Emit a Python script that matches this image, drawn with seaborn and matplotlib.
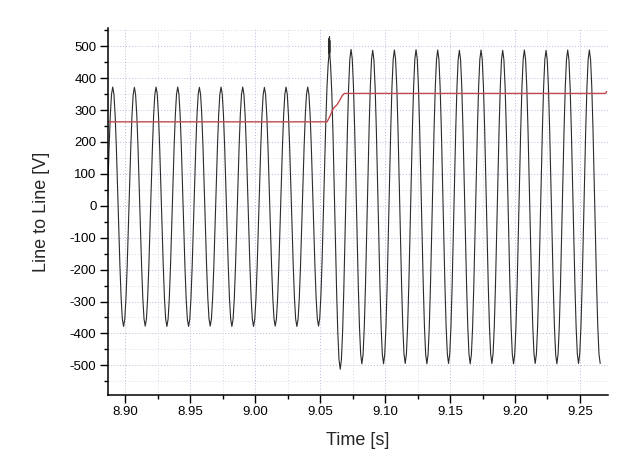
import numpy as np
import pandas as pd
import matplotlib
matplotlib.use("Agg")
import matplotlib.pyplot as plt
import seaborn as sns
from matplotlib.ticker import MultipleLocator, FormatStrFormatter

# -------------------------------------------------------
# Values
# -------------------------------------------------------

# waveform: one peak and the following trough per cycle
period = 0.01668          # s, from the peak spacing (60 Hz)
first_peak_t = 8.8903     # s
t_end = 9.2705            # s, where the trace stops
peak_v = [372, 371, 372, 372, 371, 372, 372, 371, 372, 372,
          470,
          490, 487, 488, 489, 488, 487, 488, 487, 488, 487, 488, 488]
trough_v = [-378, -377, -378, -378, -377, -378, -378, -377, -378, -377,
            -512,
            -495, -495, -494, -495, -494, -495, -494, -495, -494, -495, -494, -494]
lead_trough_v = -378      # trough before the first peak (outside the axes)

# burst of switching noise on top of the transient peak
spike_dt = [-0.0004, -0.0002, 0.0, 0.0001, 0.0002, 0.0003, 0.0004]
spike_v = [468, 525, 476, 530, 480, 518, 470]
spike_cycle = 10

# red trace (rms)
red_t = [8.8863, 9.0553, 9.0575, 9.0595, 9.0610, 9.0627, 9.0650, 9.0670,
         9.0686, 9.2698, 9.2705]
red_v = [263, 263, 280, 300, 309, 315, 330, 345, 352, 352, 358]

x_ticks = [8.90, 8.95, 9.00, 9.05, 9.10, 9.15, 9.20, 9.25]


def build_wave() -> pd.DataFrame:
    # extrema sequence: trough, peak, trough, peak, ...
    ext_t = [first_peak_t - period / 2]
    ext_v = [lead_trough_v]
    for k, (p, tr) in enumerate(zip(peak_v, trough_v)):
        ext_t += [first_peak_t + k * period, first_peak_t + (k + 0.5) * period]
        ext_v += [p, tr]

    # half-cosine between neighbouring extrema
    ts, vs = [], []
    steps = 9
    for i in range(len(ext_t) - 1):
        t0, t1 = ext_t[i], ext_t[i + 1]
        v0, v1 = ext_v[i], ext_v[i + 1]
        for j in range(steps):
            f = j / steps
            w = (1 - np.cos(np.pi * f)) / 2
            ts.append(t0 + (t1 - t0) * f)
            vs.append(v0 + (v1 - v0) * w)
    ts.append(ext_t[-1])
    vs.append(ext_v[-1])

    df = pd.DataFrame({"t": ts, "v": vs})

    # insert the spike burst around the transient peak
    t_pk = first_peak_t + spike_cycle * period
    df = df[(df["t"] < t_pk + spike_dt[0]) | (df["t"] > t_pk + spike_dt[-1])]
    burst = pd.DataFrame({"t": [t_pk + d for d in spike_dt], "v": spike_v})
    df = pd.concat([df, burst]).sort_values("t")
    df = df[df["t"] <= t_end]
    return df


def main() -> None:
    sns.set_style("white")
    plt.rcParams["font.family"] = ["Liberation Sans", "DejaVu Sans"]
    plt.rcParams["axes.unicode_minus"] = False

    wave = build_wave()
    red = pd.DataFrame({"t": red_t, "v": red_v})

    fig = plt.figure(figsize=(6.23, 4.72), dpi=100)
    ax = fig.add_axes([0.1726, 0.1630, 0.8033, 0.7777])

    sns.lineplot(data=wave, x="t", y="v", ax=ax, sort=False, estimator=None,
                 color="#2b2b2b", linewidth=0.8)
    sns.lineplot(data=red, x="t", y="v", ax=ax, sort=False, estimator=None,
                 color="#c44a4e", linewidth=1.0)

    ax.set_xlim(8.8863, 9.2716)
    ax.set_ylim(-593, 557)

    ax.set_xticks(x_ticks)
    ax.xaxis.set_major_formatter(FormatStrFormatter("%.2f"))
    ax.xaxis.set_minor_locator(MultipleLocator(0.025))
    ax.yaxis.set_major_locator(MultipleLocator(100))
    ax.yaxis.set_minor_locator(MultipleLocator(50))

    ax.grid(True, which="major", linestyle=(0, (1, 2)), color="#b8b8da", linewidth=0.7)
    ax.grid(True, which="minor", linestyle=(0, (1, 2)), color="#d4dbe8", linewidth=0.7)
    ax.set_axisbelow(True)

    for side in ["top", "right"]:
        ax.spines[side].set_visible(False)
    for side in ["left", "bottom"]:
        ax.spines[side].set_color("black")
        ax.spines[side].set_linewidth(1.1)

    ax.tick_params(which="major", direction="out", length=5.5, width=1.0,
                   labelsize=9.5, pad=2.5, colors="black", left=True, bottom=True)
    ax.tick_params(which="minor", direction="out", length=3, width=1.0,
                   colors="black", left=True, bottom=True)

    ax.set_xlabel("Time [s]", fontsize=13, labelpad=10)
    ax.set_ylabel("Line to Line [V]", fontsize=13, labelpad=14)

    fig.savefig("out.png", dpi=100)


if __name__ == "__main__":
    main()
